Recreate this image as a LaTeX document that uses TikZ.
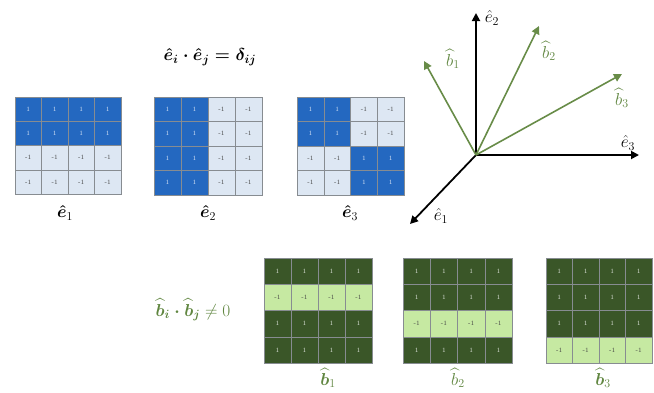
\documentclass[tikz,border=0pt]{standalone}
\usepackage{amsmath}
\usepackage{amssymb}
\usepackage{xcolor}
\usepackage{tikz}
\usetikzlibrary{arrows.meta, positioning, calc}
\definecolor{eblue}{RGB}{36, 104, 192}
\definecolor{elight}{RGB}{221, 231, 243}
\definecolor{bdark}{RGB}{58, 86, 40}
\definecolor{blight}{RGB}{198, 233, 162}
\definecolor{vecgreen}{RGB}{104, 140, 72}
\definecolor{labgreen}{RGB}{96, 134, 64}
\definecolor{gridgray}{RGB}{135, 140, 145}
\tikzstyle{cell} = [rectangle, draw=gridgray, line width=0.5pt, inner sep=0pt, font=\fontsize{6.5}{7}\selectfont]
\tikzstyle{axis} = [-{Triangle[length=8pt, width=8pt]}, line width=1.8pt, black]
\tikzstyle{basis} = [-{Triangle[length=8pt, width=8pt]}, line width=1.6pt, vecgreen]
\tikzstyle{veclabel} = [font=\fontsize{17}{20}\selectfont, inner sep=1pt]
% #1 name, #2 left, #3 top, #4 cell width, #5 cell height, #6 dark, #7 light, #8 test for dark cells
\newcommand{\signgrid}[8]{%
  \foreach \r in {1,...,4}{
    \foreach \c in {1,...,4}{
      \pgfmathtruncatemacro{\isdark}{(#8)}
      \ifnum\isdark=1
        \node[cell, fill=#6, text=white!85!#6, minimum width=#4pt, minimum height=#5pt] (#1-\r-\c) at ({#2+(\c-0.5)*#4},{#3+(\r-0.5)*#5}) {1};
      \else
        \node[cell, fill=#7, text=black!75, minimum width=#4pt, minimum height=#5pt] (#1-\r-\c) at ({#2+(\c-0.5)*#4},{#3+(\r-0.5)*#5}) {-1};
      \fi
    }
  }
}

\begin{document}
\begin{tikzpicture}[x=1pt, y=-1pt]
    \useasboundingbox (0,0) rectangle (654,392);

    % orthogonal basis
    \node[font=\LARGE] (eqe) at (210,57) {$\boldsymbol{\hat{e}_i \cdot \hat{e}_j = \delta_{ij}}$};
    \signgrid{ea}{15}{97}{26.5}{24.3}{eblue}{elight}{\r<3}
    \signgrid{eb}{154}{97}{27}{24.5}{eblue}{elight}{\c<3}
    \signgrid{ec}{297}{97}{26.75}{24.5}{eblue}{elight}{(\r<3 && \c<3) || (\r>2 && \c>2)}
    \node[veclabel] (ea-lab) at (65,213) {$\boldsymbol{\hat{e}}_1$};
    \node[veclabel] (eb-lab) at (208,213) {$\boldsymbol{\hat{e}}_2$};
    \node[veclabel] (ec-lab) at (350,213) {$\boldsymbol{\hat{e}}_3$};

    % vectors
    \coordinate (O) at (476,155);
    \coordinate (e1tip) at (410,224);
    \coordinate (e2tip) at (476,13);
    \coordinate (e3tip) at (639,155);
    \coordinate (b1tip) at (424,61);
    \coordinate (b2tip) at (539,26);
    \coordinate (b3tip) at (622,74);
    \draw[axis] (O) -- (e1tip);
    \draw[axis] (O) -- (e2tip);
    \draw[axis] (O) -- (e3tip);
    \draw[basis] (O) -- (b1tip);
    \draw[basis] (O) -- (b2tip);
    \draw[basis] (O) -- (b3tip);
    \node[veclabel] (e1-lab) at (441,216) {$\hat{e}_1$};
    \node[veclabel] (e2-lab) at (492,18) {$\hat{e}_2$};
    \node[veclabel] (e3-lab) at (628,143) {$\hat{e}_3$};
    \node[veclabel, text=labgreen] (b1-lab) at (453,59) {$\widehat{b}_1$};
    \node[veclabel, text=labgreen] (b2-lab) at (549,51) {$\widehat{b}_2$};
    \node[veclabel, text=labgreen] (b3-lab) at (622,98) {$\widehat{b}_3$};

    % non-orthogonal basis
    \node[font=\fontsize{18}{21}\selectfont, text=labgreen] (eqb) at (193,310) {$\boldsymbol{\widehat{b}_i \cdot \widehat{b}_j} \neq 0$};
    \signgrid{ba}{264}{258}{27}{26.25}{bdark}{blight}{\r!=2}
    \signgrid{bb}{403}{258}{27.25}{26.25}{bdark}{blight}{\r!=3}
    \signgrid{bc}{546}{258}{26.5}{26.25}{bdark}{blight}{\r!=4}
    \node[veclabel, text=labgreen] (ba-lab) at (328,378) {$\boldsymbol{\widehat{b}}_1$};
    \node[veclabel, text=labgreen] (bb-lab) at (458,378) {$\widehat{b}_2$};
    \node[veclabel, text=labgreen] (bc-lab) at (603,378) {$\boldsymbol{\widehat{b}}_3$};
\end{tikzpicture}
\end{document}
